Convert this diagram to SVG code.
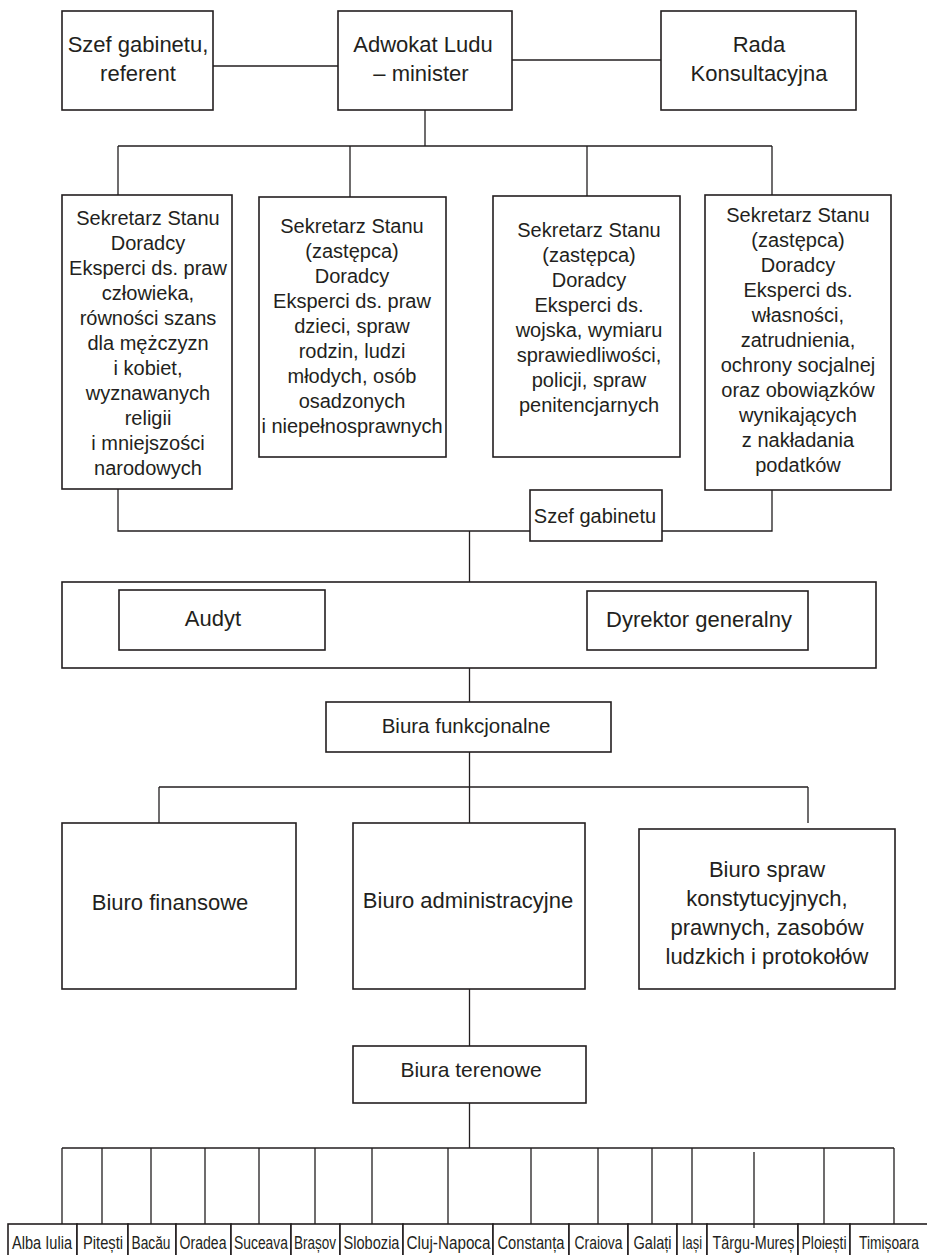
<svg xmlns="http://www.w3.org/2000/svg" width="927" height="1255" viewBox="0 0 927 1255">
<style>
.box{fill:#fff;stroke:#231f20;stroke-width:1.6}
.ln{fill:none;stroke:#231f20;stroke-width:1.3}
.t{font-family:"Liberation Sans",Arial,sans-serif;fill:#231f20;text-anchor:middle}
.s22{font-size:22px}
.s20{font-size:20px}
.c{font-family:"Liberation Sans Narrow","Arial Narrow","Liberation Sans",sans-serif;font-size:17.5px}
</style>
<rect width="927" height="1255" fill="#fff"/>
<g id="connectors">
<path class="ln" d="M213 66H338M512 60H661M425 110V146M118 146H772M118 146V195M350 146V197M587 146V197M772 146V195"/>
<path class="ln" d="M118 489V531H772V490M469.5 531V582M469.5 668V702M469.5 752V787M159 787H808M159 787V823M469.5 787V823M808 787V823"/>
<path class="ln" d="M469.5 989V1046M469.5 1103V1148M62 1148H894"/>
<path class="ln" d="M62 1148V1224M102 1148V1224M151 1148V1224M205 1148V1224M259 1148V1224M315 1148V1224M372 1148V1224M448 1148V1224M531 1148V1224M598 1148V1224M652 1148V1224M692 1148V1224M754 1152V1228M824 1148V1224M894 1148V1224"/>
</g>
<g id="szef-referent"><rect class="box" x="62" y="11" width="151" height="99"/>
<text class="t s22" x="138" y="52">Szef gabinetu,</text><text class="t s22" x="138" y="81">referent</text></g>
<g id="adwokat"><rect class="box" x="338" y="11" width="174" height="99"/>
<text class="t s22" x="423" y="52">Adwokat Ludu</text><text class="t s22" x="421" y="81">– minister</text></g>
<g id="rada"><rect class="box" x="661" y="11" width="195" height="99"/>
<text class="t s22" x="759" y="52">Rada</text><text class="t s22" x="759" y="81">Konsultacyjna</text></g>
<g id="sekretarz1"><rect class="box" x="62" y="195" width="170" height="294"/>
<text class="t s20" x="148" y="225">Sekretarz Stanu</text>
<text class="t s20" x="148" y="250">Doradcy</text>
<text class="t s20" x="148" y="275">Eksperci ds. praw</text>
<text class="t s20" x="148" y="300">człowieka,</text>
<text class="t s20" x="148" y="325">równości szans</text>
<text class="t s20" x="148" y="350">dla mężczyzn</text>
<text class="t s20" x="148" y="375">i kobiet,</text>
<text class="t s20" x="148" y="400">wyznawanych</text>
<text class="t s20" x="148" y="425">religii</text>
<text class="t s20" x="148" y="450">i mniejszości</text>
<text class="t s20" x="148" y="475">narodowych</text></g>
<g id="sekretarz2"><rect class="box" x="259" y="197" width="187" height="260"/>
<text class="t s20" x="352" y="233">Sekretarz Stanu</text>
<text class="t s20" x="352" y="258">(zastępca)</text>
<text class="t s20" x="352" y="283">Doradcy</text>
<text class="t s20" x="352" y="308">Eksperci ds. praw</text>
<text class="t s20" x="352" y="333">dzieci, spraw</text>
<text class="t s20" x="352" y="358">rodzin, ludzi</text>
<text class="t s20" x="352" y="383">młodych, osób</text>
<text class="t s20" x="352" y="408">osadzonych</text>
<text class="t s20" x="352" y="433">i niepełnosprawnych</text></g>
<g id="sekretarz3"><rect class="box" x="493" y="196" width="187" height="261"/>
<text class="t s20" x="589" y="237">Sekretarz Stanu</text>
<text class="t s20" x="589" y="262">(zastępca)</text>
<text class="t s20" x="589" y="287">Doradcy</text>
<text class="t s20" x="589" y="312">Eksperci ds.</text>
<text class="t s20" x="589" y="337">wojska, wymiaru</text>
<text class="t s20" x="589" y="362">sprawiedliwości,</text>
<text class="t s20" x="589" y="387">policji, spraw</text>
<text class="t s20" x="589" y="412">penitencjarnych</text></g>
<g id="sekretarz4"><rect class="box" x="705" y="195" width="186" height="295"/>
<text class="t s20" x="798" y="222">Sekretarz Stanu</text>
<text class="t s20" x="798" y="247">(zastępca)</text>
<text class="t s20" x="798" y="272">Doradcy</text>
<text class="t s20" x="798" y="297">Eksperci ds.</text>
<text class="t s20" x="798" y="322">własności,</text>
<text class="t s20" x="798" y="347">zatrudnienia,</text>
<text class="t s20" x="798" y="372">ochrony socjalnej</text>
<text class="t s20" x="798" y="397">oraz obowiązków</text>
<text class="t s20" x="798" y="422">wynikających</text>
<text class="t s20" x="798" y="447">z nakładania</text>
<text class="t s20" x="798" y="472">podatków</text></g>
<g id="szef-gabinetu"><rect class="box" x="530" y="490" width="132" height="51"/>
<text class="t" style="font-size:20px" x="595" y="523">Szef gabinetu</text></g>
<g id="kierownictwo"><rect class="box" x="62" y="582" width="814" height="86"/></g>
<g id="audyt"><rect class="box" x="119" y="590" width="206" height="60"/>
<text class="t s22" x="213" y="626">Audyt</text></g>
<g id="dyrektor"><rect class="box" x="587" y="591" width="221" height="59"/>
<text class="t s22" x="699" y="627">Dyrektor generalny</text></g>
<g id="biura-funkcjonalne"><rect class="box" x="326" y="702" width="285" height="50"/>
<text class="t" style="font-size:20.5px" x="466" y="733">Biura funkcjonalne</text></g>
<g id="biuro-finansowe"><rect class="box" x="62" y="823" width="234" height="166"/>
<text class="t s22" x="170" y="910">Biuro finansowe</text></g>
<g id="biuro-administracyjne"><rect class="box" x="353" y="823" width="232" height="166"/>
<text class="t s22" x="468" y="908">Biuro administracyjne</text></g>
<g id="biuro-spraw"><rect class="box" x="639" y="829" width="256" height="160"/>
<text class="t s22" x="767" y="877">Biuro spraw</text>
<text class="t s22" x="767" y="906">konstytucyjnych,</text>
<text class="t s22" x="767" y="935">prawnych, zasobów</text>
<text class="t s22" x="767" y="964">ludzkich i protokołów</text></g>
<g id="biura-terenowe"><rect class="box" x="353" y="1046" width="233" height="57"/>
<text class="t" style="font-size:21px" x="471" y="1077">Biura terenowe</text></g>
<g id="alba-iulia"><rect class="box" x="8" y="1224" width="69" height="40"/><text class="t c" x="42" y="1249" textLength="60" lengthAdjust="spacingAndGlyphs">Alba Iulia</text></g>
<g id="pitesti"><rect class="box" x="77" y="1224" width="51" height="40"/><text class="t c" x="103" y="1249" textLength="40" lengthAdjust="spacingAndGlyphs">Pitești</text></g>
<g id="bacau"><rect class="box" x="128" y="1224" width="48" height="40"/><text class="t c" x="151" y="1249" textLength="39" lengthAdjust="spacingAndGlyphs">Bacău</text></g>
<g id="oradea"><rect class="box" x="176" y="1224" width="55" height="40"/><text class="t c" x="203" y="1249" textLength="47" lengthAdjust="spacingAndGlyphs">Oradea</text></g>
<g id="suceava"><rect class="box" x="231" y="1224" width="60" height="40"/><text class="t c" x="261" y="1249" textLength="54" lengthAdjust="spacingAndGlyphs">Suceava</text></g>
<g id="brasov"><rect class="box" x="291" y="1224" width="49" height="40"/><text class="t c" x="315" y="1249" textLength="42" lengthAdjust="spacingAndGlyphs">Brașov</text></g>
<g id="slobozia"><rect class="box" x="340" y="1224" width="63" height="40"/><text class="t c" x="371.5" y="1249" textLength="56" lengthAdjust="spacingAndGlyphs">Slobozia</text></g>
<g id="cluj-napoca"><rect class="box" x="403" y="1224" width="90" height="40"/><text class="t c" x="448.5" y="1249" textLength="84" lengthAdjust="spacingAndGlyphs">Cluj-Napoca</text></g>
<g id="constanta"><rect class="box" x="493" y="1224" width="76" height="40"/><text class="t c" x="531" y="1249" textLength="67" lengthAdjust="spacingAndGlyphs">Constanța</text></g>
<g id="craiova"><rect class="box" x="569" y="1224" width="59" height="40"/><text class="t c" x="598.5" y="1249" textLength="48" lengthAdjust="spacingAndGlyphs">Craiova</text></g>
<g id="galati"><rect class="box" x="628" y="1224" width="49" height="40"/><text class="t c" x="652.5" y="1249" textLength="38" lengthAdjust="spacingAndGlyphs">Galați</text></g>
<g id="iasi"><rect class="box" x="677" y="1224" width="30" height="40"/><text class="t c" x="692" y="1249" textLength="20" lengthAdjust="spacingAndGlyphs">Iași</text></g>
<g id="targu-mures"><rect class="box" x="707" y="1224" width="91" height="40"/><text class="t c" x="753.5" y="1249" textLength="82" lengthAdjust="spacingAndGlyphs">Târgu-Mureș</text></g>
<g id="ploiesti"><rect class="box" x="798" y="1224" width="52" height="40"/><text class="t c" x="824" y="1249" textLength="45" lengthAdjust="spacingAndGlyphs">Ploiești</text></g>
<g id="timisoara"><rect class="box" x="850" y="1224" width="90" height="40"/><text class="t c" x="889" y="1249" textLength="60" lengthAdjust="spacingAndGlyphs">Timișoara</text></g>
<path class="ln" d="M754 1224V1228"/>
</svg>
